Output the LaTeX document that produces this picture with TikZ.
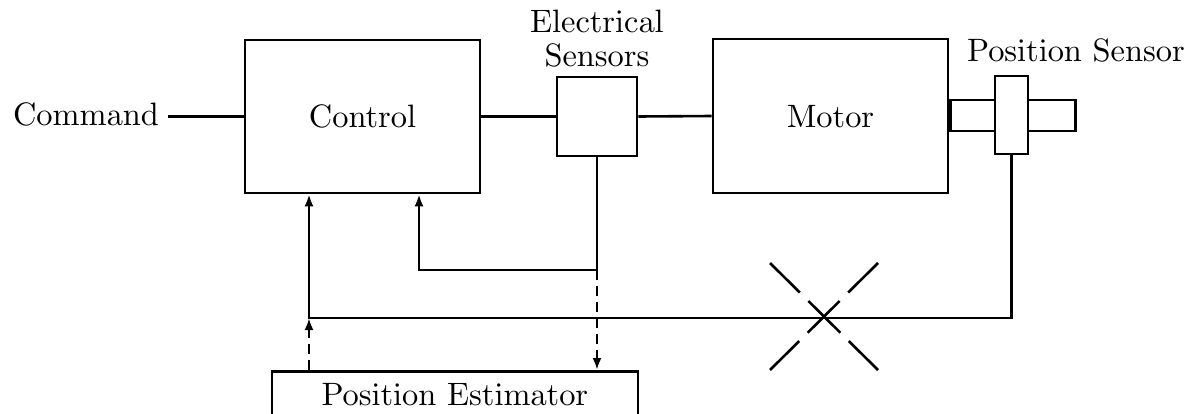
\documentclass[tikz,border=0pt]{standalone}
\usetikzlibrary{arrows.meta,calc}
\font\diagrm=cmr10 at 16.2pt
\newcommand\twolinefont{\diagrm\baselineskip=17pt\relax}
\begin{document}
\begin{tikzpicture}[x=0.5pt,y=-0.5pt,
  line width=1.3pt,
  txt/.style={font=\diagrm, inner sep=2pt},
  blk/.style={draw, fill=white, inner sep=0pt, font=\diagrm},
  arr/.style={-{Latex[length=6pt,width=4.5pt]}},
  dsh/.style={dash pattern=on 5pt off 3pt},
  cross/.style={line width=1.3pt, dash pattern=on 21pt off 6pt on 22.5pt off 6pt}]
\useasboundingbox (0,0) rectangle (1189,413);

% blocks
\node[blk, minimum width=117.5pt, minimum height=76.5pt] (ctrl) at (362.5,116.5) {Control};
\node[blk, minimum width=40pt, minimum height=39.5pt] (es) at (597,116.5) {};
\node[blk, minimum width=117.5pt, minimum height=77pt] (motor) at (830.5,116) {Motor};
\node[blk, minimum width=62.5pt, minimum height=15.5pt, anchor=west] (shaft) at (motor.east |- 0,115.5) {};
\node[blk, minimum width=16.5pt, minimum height=39pt] (ps) at (1011.5,115) {};
\node[blk, minimum width=183pt, minimum height=23pt, anchor=north] (pe) at (455,370) {Position Estimator};

% labels
\node[txt, align=center, anchor=south, font=\twolinefont] (eslab) at ($(es.north)+(0,-4)$) {Electrical\\Sensors};
\node[txt] (pslab) at (1076,50) {Position Sensor};
\node[txt, inner sep=4pt] (cmd) at (86,114) {Command};

% forward path
\draw (cmd.east |- ctrl.west) -- (ctrl.west);
\draw (ctrl.east) -- (es.west);
\draw (es.east) -- (motor.west);

% feedback from electrical sensors
\coordinate (j1) at (597,270);
\draw[arr] (es.south) -- (j1) -| ([xshift=28.25pt]ctrl.south);
\draw[arr, dsh] (j1) -- (j1 |- pe.north);

% feedback from position sensor
\coordinate (j2) at (309,318);
\draw[arr] (ps.south) |- (j2) -- ([xshift=-26.75pt]ctrl.south);
\draw[arr, dsh] (j2 |- pe.north) -- (j2);

% cross
\draw[cross] (770,263) -- (878,370);
\draw[cross] (878,263) -- (770,370);
\end{tikzpicture}
\end{document}
